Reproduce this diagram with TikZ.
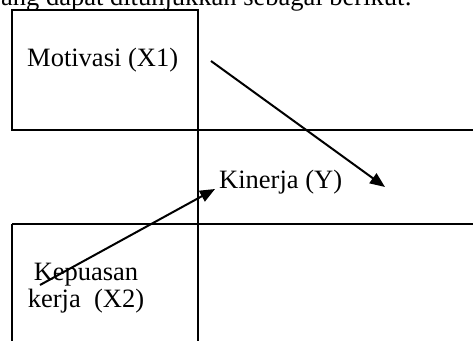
\documentclass[tikz,border=0pt]{standalone}
\usepackage{fontspec}
\setmainfont{Liberation Serif}
\usetikzlibrary{arrows.meta}
\begin{document}
\begin{tikzpicture}[x=1pt,y=-1pt,
  frame/.style={line width=1.7pt},
  conn/.style={line width=2pt,-{Triangle[length=15pt,width=12pt]}},
  lbl/.style={inner sep=0pt,font=\fontsize{26.5}{27}\selectfont}]
\useasboundingbox (0,0) rectangle (473,341);
\begin{scope}
\clip (0,0) rectangle (473,341);
\node[lbl,anchor=base west] (intro) at (1,5) {ang dapat ditunjukkan sebagai berikut:};
\end{scope}
% frames
\draw[frame] (12,10) rectangle (198,130);
\draw[frame] (198,130) -- (473,130);
\draw[frame] (198,130) -- (198,341);
\draw[frame] (12,224) -- (473,224);
\draw[frame] (12,224) -- (12,341);
% labels
\node[lbl,anchor=base west] (x1) at (27,66) {Motivasi (X1)};
\node[lbl,anchor=base west] (y) at (219,188) {Kinerja (Y)};
\node[lbl,anchor=base,align=center] (x2) at (86,307) {Kepuasan\\kerja~~(X2)};
% connectors
\coordinate (a1s) at (211,61);
\coordinate (a1e) at (385,187);
\coordinate (a2s) at (40,285);
\coordinate (a2e) at (215,189);
\draw[conn] (a1s) -- (a1e);
\draw[conn] (a2s) -- (a2e);
\end{tikzpicture}
\end{document}
